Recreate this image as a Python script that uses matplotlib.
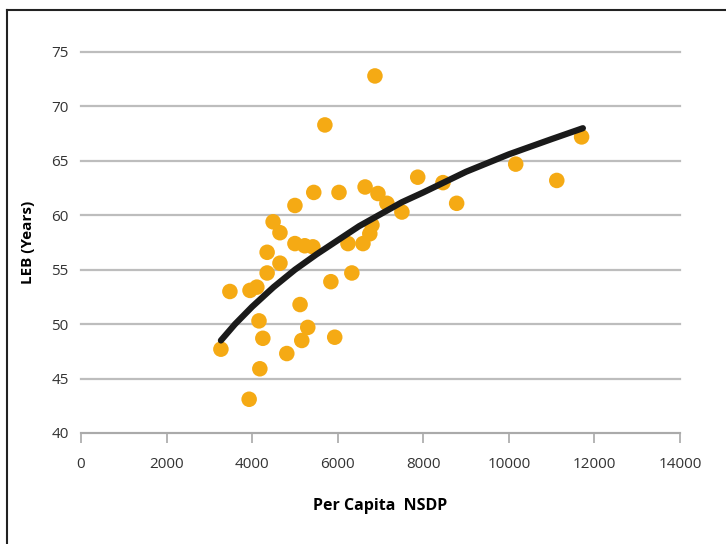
import matplotlib
matplotlib.use('Agg')
import matplotlib.pyplot as plt
from matplotlib.lines import Line2D

# scatter points (per capita NSDP, LEB years)
nsdp = [3270, 3480, 3930, 3950, 4110, 4160, 4180, 4250, 4350, 4350, 4490,
        4650, 4650, 4810, 5000, 5000, 5120, 5160, 5230, 5300, 5420, 5440,
        5700, 5840, 5930, 6030, 6240, 6330, 6590, 6640, 6750, 6800, 6870,
        6940, 7150, 7500, 7870, 8460, 8780, 10160, 11120, 11700]
leb = [47.7, 53.0, 43.1, 53.1, 53.4, 50.3, 45.9, 48.7, 54.7, 56.6, 59.4,
       58.4, 55.6, 47.3, 60.9, 57.4, 51.8, 48.5, 57.2, 49.7, 57.1, 62.1,
       68.3, 53.9, 48.8, 62.1, 57.4, 54.7, 57.4, 62.6, 58.3, 59.1, 72.8,
       62.0, 61.1, 60.3, 63.5, 63.0, 61.1, 64.7, 63.2, 67.2]

# trend line
trend_x = [3270, 3600, 4000, 4500, 5000, 5500, 6000, 6500, 7000, 7500,
           8000, 9000, 10000, 11000, 11730]
trend_y = [48.5, 50.0, 51.6, 53.4, 55.0, 56.4, 57.7, 59.0, 60.1, 61.2,
           62.1, 64.0, 65.6, 67.0, 68.0]

plt.rcParams['font.family'] = ['Open Sans', 'DejaVu Sans']

fig = plt.figure(figsize=(7.26, 5.44), dpi=100)
ax = fig.add_axes([81/726, 1-433/544, (680-81)/726, (433-52)/544])

ax.set_axisbelow(True)
ax.grid(axis='y', color='#bdbdbd', lw=1.6, clip_on=False)
ax.scatter(nsdp, leb, s=125, color='#f5aa14', edgecolors='none', zorder=2)
ax.plot(trend_x, trend_y, color='#1a1a1a', lw=4.5, solid_capstyle='round', zorder=3)

ax.set_xlim(0, 14000)
ax.set_ylim(40, 75)
ax.set_xticks(range(0, 14001, 2000))
ax.set_yticks(range(40, 76, 5))
for s in ['top', 'right', 'left']:
    ax.spines[s].set_visible(False)
ax.spines['bottom'].set_color('#a8a8a8')
ax.spines['bottom'].set_linewidth(1.3)
ax.tick_params(axis='x', colors='#a8a8a8', labelcolor='#333333', length=7,
               width=1.2, labelsize=11, pad=10)
ax.tick_params(axis='y', length=0, labelcolor='#333333', labelsize=11, pad=9)

ax.set_xlabel('Per Capita  NSDP', fontsize=11.5, fontweight='bold')
ax.xaxis.set_label_coords(0.5, -(498-433)/381)
ax.set_ylabel('LEB (Years)', fontsize=11, fontweight='bold')
ax.yaxis.set_label_coords(-(81-35)/599, 0.5)

# border around the figure (top and left only visible in the reference)
fig.add_artist(Line2D([7/726, 1], [1-10/544, 1-10/544], color='#222222', lw=1.5))
fig.add_artist(Line2D([7/726, 7/726], [0, 1-10/544], color='#222222', lw=1.5))

fig.savefig('out.png', dpi=100)
